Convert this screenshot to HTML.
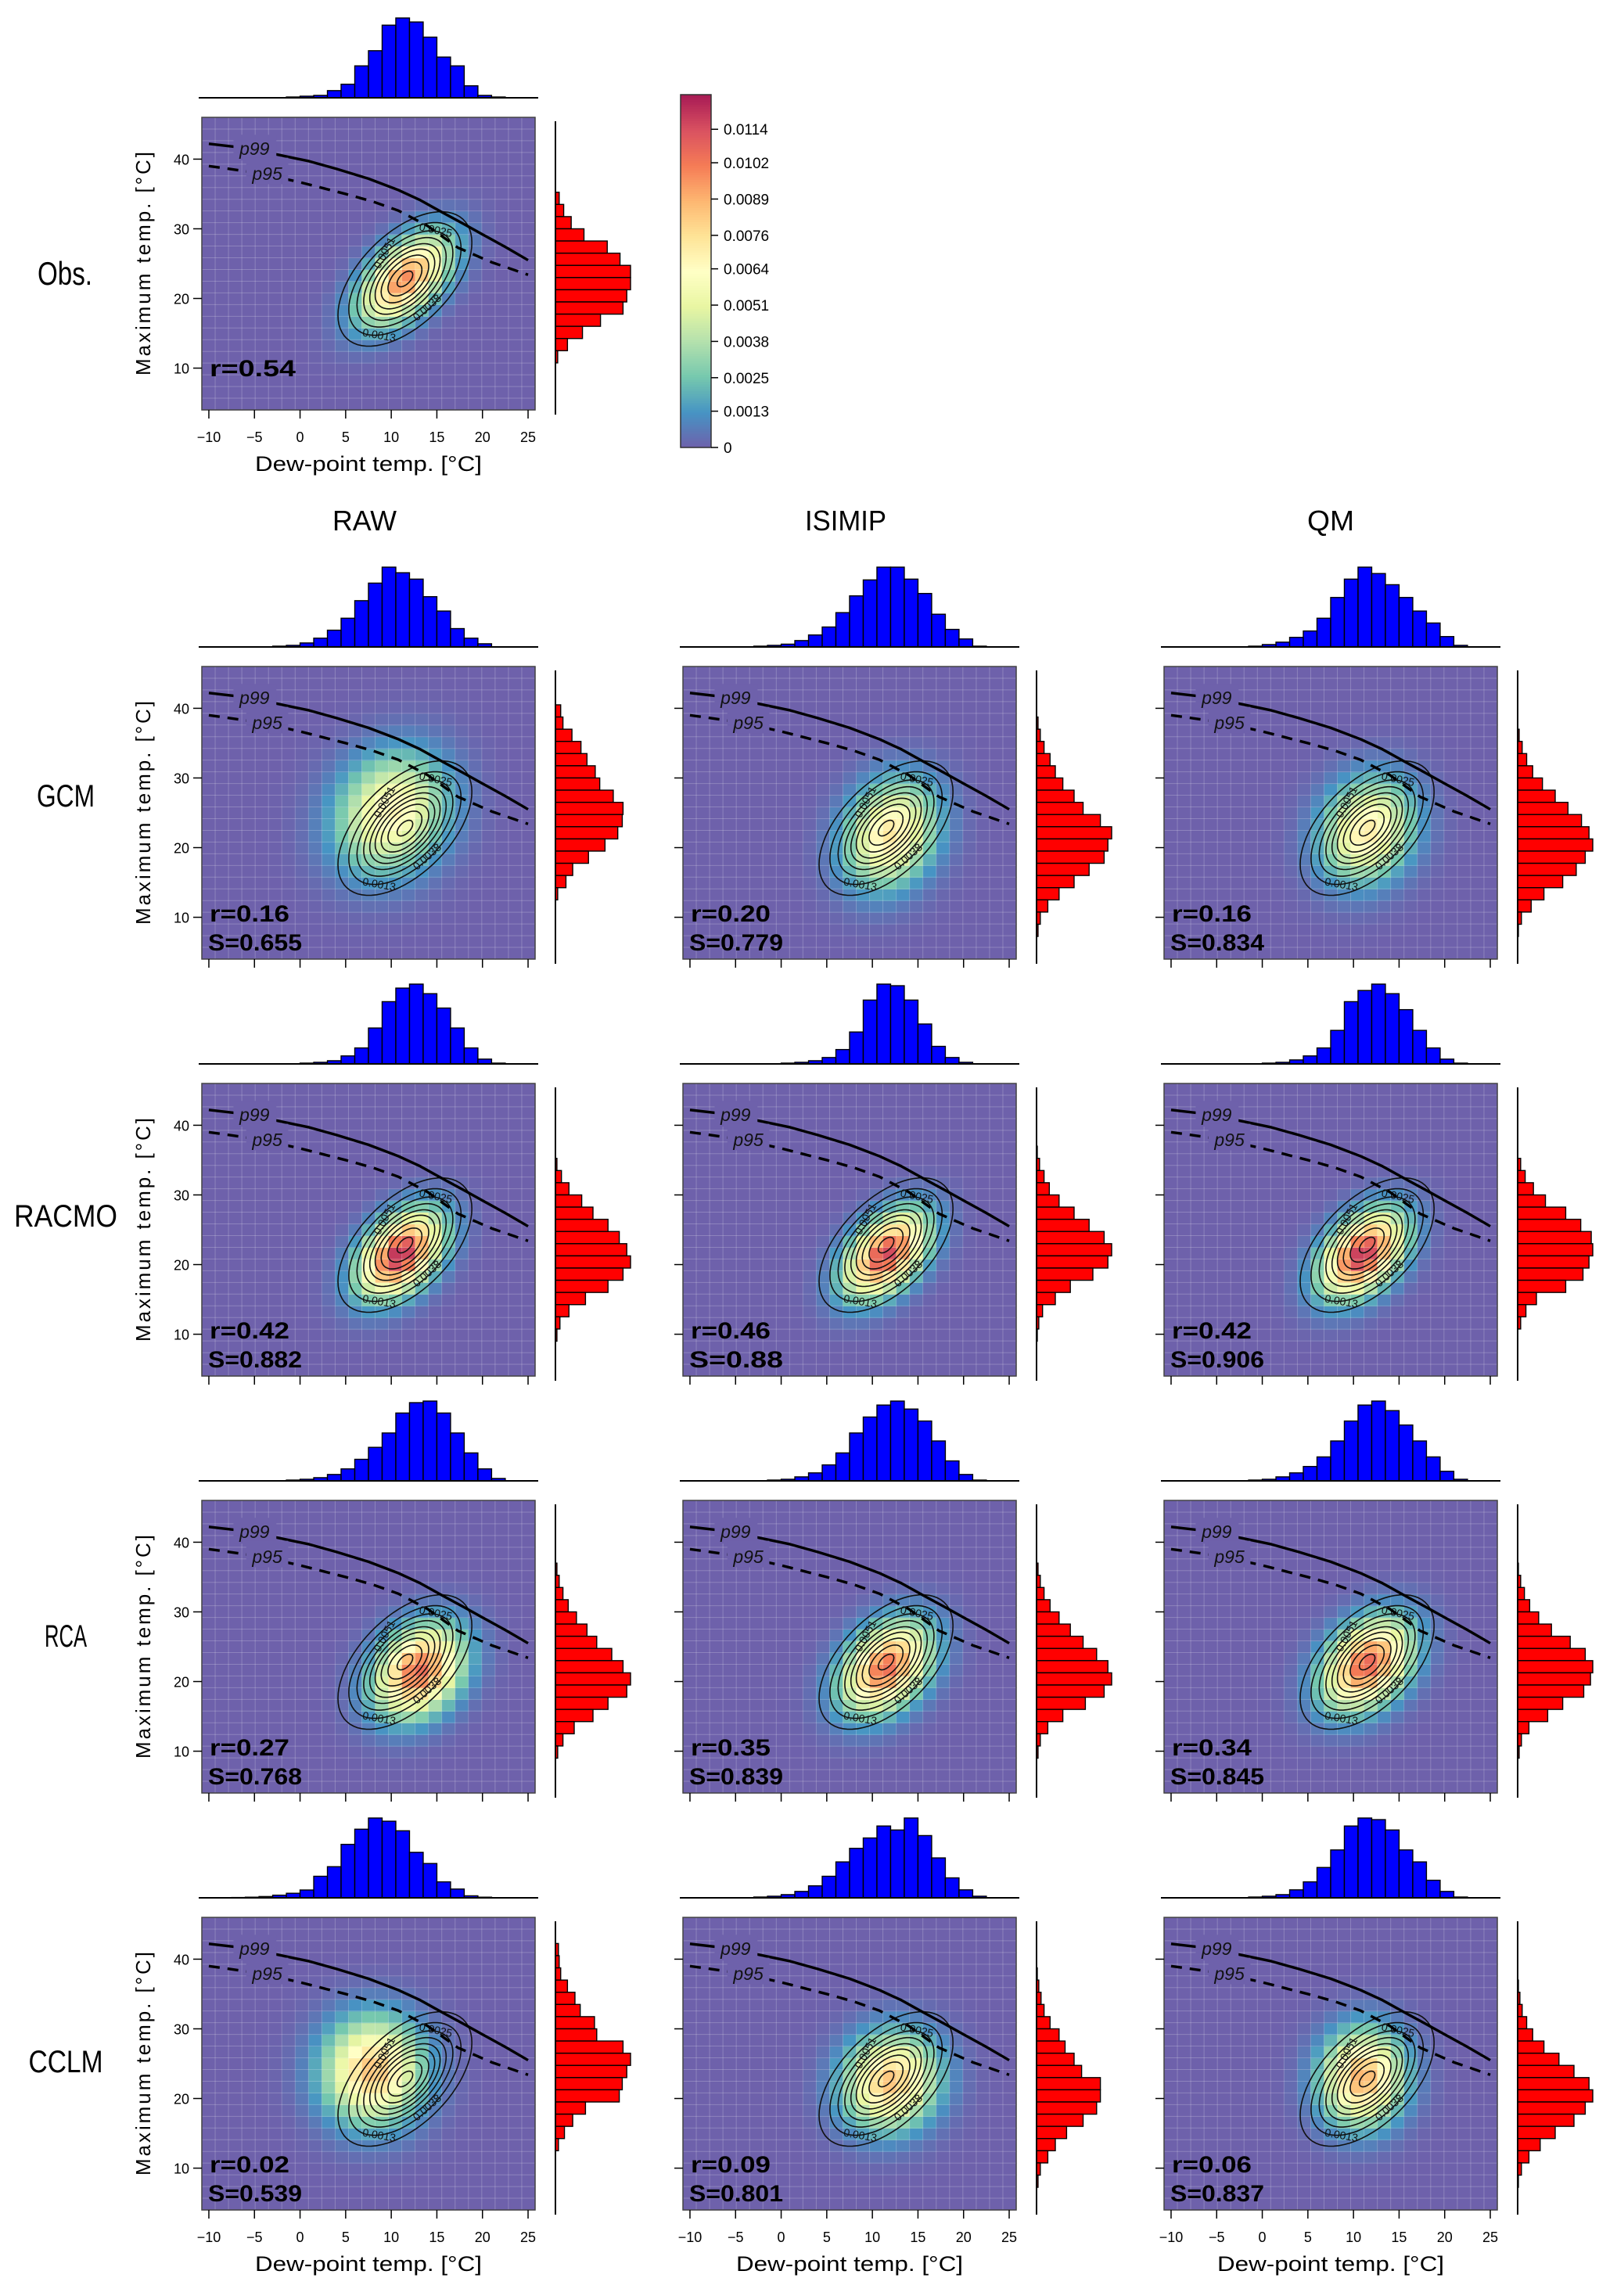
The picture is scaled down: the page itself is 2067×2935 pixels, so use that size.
<!DOCTYPE html>
<html><head><meta charset="utf-8"><style>
html,body{margin:0;padding:0;background:#fff;}
svg{display:block;}
text{font-family:"Liberation Sans",sans-serif;}
</style></head><body>
<svg id="fig" width="2067" height="2935" viewBox="0 0 2067 2935" xmlns="http://www.w3.org/2000/svg"></svg>
<script>
// ---- data ----
const rowNames = ["GCM","RACMO","RCA","CCLM"];
const colNames = ["RAW","ISIMIP","QM"];
const rValues = [["0.16","0.20","0.16"],["0.42","0.46","0.42"],["0.27","0.35","0.34"],["0.02","0.09","0.06"]];
const sValues = [["0.655","0.779","0.834"],["0.882","0.88","0.906"],["0.768","0.839","0.845"],["0.539","0.801","0.837"]];
const obsR = "0.54";
const xTicks = [-10,-5,0,5,10,15,20,25];
const yTicks = [10,20,30,40];
const cbTicks = [0,0.0013,0.0025,0.0038,0.0051,0.0064,0.0076,0.0089,0.0102,0.0114];
const contourLevels = [0.0013,0.0025,0.0038,0.0051,0.0064,0.0076,0.0089,0.0102,0.0114];
// density parameters per panel: [meanX, meanY, sdX, sdY, rho, peak]
const obsDensity = [11.5,22.8,3.3,4.3,0.54,0.0098];
const contourParams = [11.5,22.8,3.5,4.6,0.54]; // observed contours
const densities = [
 [[10,25,4,5.6,0.16,0.0068],[12,22,3.3,5,0.2,0.0074],[11.5,22.5,3.3,4.8,0.16,0.0072]],
 [[11,21.5,3,4,0.42,0.0122],[11.5,21.5,3,4,0.46,0.0116],[11,21.5,3,4,0.42,0.012]],
 [[13,21.5,3.2,4.3,0.27,0.0105],[11.5,22,3.2,4.3,0.35,0.0105],[11.5,22.5,3.2,4.3,0.34,0.0108]],
 [[8,24,3.6,5,0.02,0.0085],[12,22.5,3.4,4.5,0.09,0.0085],[11,23,3,4.5,0.06,0.009]]
];
// top histograms: bins start -7.5 width 1.5
const obsTop = [0,0,0,0,.01,.02,.03,.09,.17,.4,.59,.91,1,.95,.76,.51,.4,.15,.03,.01,0,0];
const gcmRawTop = [0,0,0,.01,.02,.05,.11,.21,.36,.58,.8,1,.93,.85,.63,.45,.23,.11,.04,0,0,0];
const gcmIsiTop = [0,0,0,.01,.02,.035,.08,.15,.25,.43,.64,.84,1,1,.85,.67,.41,.22,.1,.01,0,0];
const gcmQmTop = [0,0,0,0,.01,.03,.06,.12,.2,.36,.62,.85,1,.92,.78,.62,.45,.3,.13,.02,0,0];
const racmoRawTop = [0,0,0,0,0,.01,.02,.04,.1,.2,.45,.78,.95,1,.88,.7,.45,.2,.06,.01,0,0];
const racmoIsiTop = [0,0,0,0,0,.01,.02,.04,.08,.18,.4,.8,1,.98,.8,.5,.22,.08,.02,0,0,0];
const racmoQmTop = [0,0,0,0,0,.01,.02,.05,.1,.2,.42,.78,.92,1,.88,.68,.42,.2,.06,.01,0,0];
const rcaRawTop = [0,0,0,0,.01,.02,.04,.08,.15,.27,.42,.6,.85,.98,1,.85,.6,.35,.15,.03,0,0];
const rcaIsiTop = [0,0,0,0,.01,.02,.05,.1,.2,.35,.6,.8,.95,1,.9,.75,.5,.25,.08,.01,0,0];
const rcaQmTop = [0,0,0,0,.01,.02,.05,.1,.18,.3,.5,.75,.95,1,.88,.7,.5,.3,.12,.02,0,0];
const cclmRawTop = [.004,.008,.016,.033,.057,.098,.27,.39,.67,.86,1,.96,.84,.57,.43,.2,.11,.025,.008,0,0,0];
const cclmIsiTop = [0,0,0,.01,.02,.04,.08,.15,.27,.45,.62,.75,.9,.85,1,.78,.5,.25,.1,.02,0,0];
const cclmQmTop = [0,0,0,0,.01,.02,.04,.1,.2,.38,.6,.9,1,.98,.85,.6,.45,.22,.08,.01,0,0];
// right histograms: top edge 42.25, width 1.75, listed top -> bottom
const obsRight = [0,0,0,0,.05,.11,.21,.38,.69,.86,1,1,.95,.9,.6,.36,.16,.03,0,0,0];
const gcmRawRight = [0,.07,.1,.22,.34,.42,.53,.59,.77,.9,.89,.83,.66,.44,.23,.14,.03,0,0,0,0];
const gcmIsiRight = [0,0,.02,.05,.1,.18,.25,.35,.5,.62,.85,1,.95,.9,.7,.5,.3,.15,.05,.02,0];
const gcmQmRight = [0,0,0,.02,.06,.12,.2,.33,.5,.67,.85,.95,1,.9,.78,.6,.35,.18,.05,.01,0];
const racmoRawRight = [0,0,0,0,.02,.08,.18,.35,.5,.7,.85,.95,1,.9,.7,.4,.18,.06,.02,0,0];
const racmoIsiRight = [0,0,0,.01,.04,.1,.17,.3,.5,.7,.9,1,.95,.75,.45,.25,.08,.03,.01,0,0];
const racmoQmRight = [0,0,0,0,.04,.1,.21,.37,.64,.84,.98,1,.95,.87,.64,.25,.11,.04,0,0,0];
const rcaRawRight = [0,0,0,.02,.05,.1,.17,.28,.42,.55,.75,.9,1,.95,.7,.5,.25,.1,.03,0,0];
const rcaIsiRight = [0,0,0,.02,.05,.1,.18,.3,.45,.62,.8,.95,1,.9,.65,.35,.15,.05,.02,0,0];
const rcaQmRight = [0,0,0,.01,.04,.09,.16,.28,.45,.7,.9,1,.97,.88,.6,.4,.15,.05,.02,0,0];
const cclmRawRight = [.04,.05,.07,.16,.26,.33,.52,.55,.9,1,.95,.89,.85,.4,.23,.12,.04,0,0,0,0];
const cclmIsiRight = [0,0,.01,.03,.06,.1,.18,.3,.38,.5,.6,.85,.85,.8,.62,.4,.25,.15,.05,.02,0];
const cclmQmRight = [0,0,0,.01,.03,.06,.12,.2,.35,.55,.75,.95,1,.9,.75,.5,.3,.15,.05,.01,0];
const topHists = [[gcmRawTop,gcmIsiTop,gcmQmTop],[racmoRawTop,racmoIsiTop,racmoQmTop],[rcaRawTop,rcaIsiTop,rcaQmTop],[cclmRawTop,cclmIsiTop,cclmQmTop]];
const rightHists = [[gcmRawRight,gcmIsiRight,gcmQmRight],[racmoRawRight,racmoIsiRight,racmoQmRight],[rcaRawRight,rcaIsiRight,rcaQmRight],[cclmRawRight,cclmIsiRight,cclmQmRight]];
const p99X = [-10,-6,-2.3,1,4,7.5,10.8,13.2,15.4,17.8,20,22.5,25];
const p99Y = [42.2,41.6,40.6,39.7,38.6,37.2,35.55,34.1,32.5,30.8,29.2,27.4,25.5];
const p95X = [-10,-5,-0.05,5,8,10.8,14,17.3,21,25];
const p95Y = [39.0,38.1,36.7,35.0,33.9,32.6,30.4,27.3,25.2,23.4];

// ---- drawing ----
const NS="http://www.w3.org/2000/svg";
const svg=document.getElementById('fig');
function mk(tag,attrs,parent){const e=document.createElementNS(NS,tag);for(const k in attrs)e.setAttribute(k,attrs[k]);(parent||svg).appendChild(e);return e;}
const XMIN=-10.77,XMAX=25.77,YMIN=4,YMAX=46,PW=426,PH=374,CBMAX=0.01264;
const spectral=["#5E4FA2","#3288BD","#66C2A5","#ABDDA4","#E6F598","#FFFFBF","#FEE08B","#FDAE61","#F46D43","#D53E4F","#9E0142"];
function hex(h){return [parseInt(h.substr(1,2),16),parseInt(h.substr(3,2),16),parseInt(h.substr(5,2),16)];}
function colorOf(v){let t=Math.max(0,Math.min(1,v/CBMAX))*(spectral.length-1);let i=Math.min(Math.floor(t),spectral.length-2);let f=t-i;const a=hex(spectral[i]),b=hex(spectral[i+1]);
 const c=a.map((x,k)=>Math.round((x+(b[k]-x)*f)*0.9+255*0.1));return `rgb(${c[0]},${c[1]},${c[2]})`;}
function dens(p,x,y){const dx=(x-p[0])/p[2],dy=(y-p[1])/p[3],r=p[4];const q=(dx*dx-2*r*dx*dy+dy*dy)/(1-r*r);return p[5]*Math.exp(-q/2);}

function panel(x0,y0,dp,topH,rightH,opt){
 const g=mk('g',{});
 
 
 const sx=v=>x0+(v-XMIN)/(XMAX-XMIN)*PW;
 const sy=v=>y0+(YMAX-v)/(YMAX-YMIN)*PH;
 const N=25,cw=(XMAX-XMIN)/N,ch=(YMAX-YMIN)/N;
 const hm=mk('g',{},g);
 
 
 for(let i=0;i<N;i++)for(let j=0;j<N;j++){
  const cx=XMIN+(i+0.5)*cw,cy=YMIN+(j+0.5)*ch;
  const r=mk('rect',{x:sx(XMIN+i*cw),y:sy(YMIN+(j+1)*ch),width:PW/N+0.6,height:PH/N+0.6,fill:colorOf(dens(dp,cx,cy))},hm);
  
  
 }
 for(let i=1;i<N;i++){mk('line',{x1:x0+i*PW/N,x2:x0+i*PW/N,y1:y0,y2:y0+PH,stroke:'rgba(255,255,255,0.22)','stroke-width':1},g);
  mk('line',{x1:x0,x2:x0+PW,y1:y0+i*PH/N,y2:y0+i*PH/N,stroke:'rgba(255,255,255,0.22)','stroke-width':1},g);}
 const cp=contourParams;const pk=1/(2*Math.PI*cp[2]*cp[3]*Math.sqrt(1-cp[4]*cp[4]));
 contourLevels.forEach(lv=>{ if(lv>=pk)return; const d=Math.sqrt(2*Math.log(pk/lv));let pts=[];
  for(let k=0;k<=72;k++){const t=k/72*2*Math.PI;const xv=cp[0]+cp[2]*d*Math.cos(t);const yv=cp[1]+cp[3]*d*(cp[4]*Math.cos(t)+Math.sqrt(1-cp[4]*cp[4])*Math.sin(t));pts.push(sx(xv).toFixed(1)+','+sy(yv).toFixed(1));}
  const pl=mk('polyline',{points:pts.join(' '),fill:'none',stroke:'#111','stroke-width':1.6},g);
  
  
 });
 const cl=[["0.0025",14.8,29.3,12],["0.0051",9.6,26.3,-62],["0.0038",14.2,18.3,-42],["0.0013",8.6,14.2,10]];
 cl.forEach(c=>{const t=mk('text',{x:sx(c[1]),y:sy(c[2]),'font-size':14,'text-anchor':'middle',fill:'#111',transform:`rotate(${c[3]} ${sx(c[1])} ${sy(c[2])})`},g);t.textContent=c[0];
  });
 const line=(X,Y,dash,name)=>{const p=mk('polyline',{points:X.map((v,i)=>sx(v)+','+sy(Y[i])).join(' '),fill:'none',stroke:'#000','stroke-width':3.4,'stroke-dasharray':dash,'stroke-linejoin':'round'},g);
  };
 line(p99X,p99Y,'none','p99-curve');line(p95X,p95Y,'14,10','p95-curve');
 mk('rect',{x:sx(-7.3),y:sy(43.5),width:sx(-2.6)-sx(-7.3),height:sy(39.8)-sy(43.5),fill:colorOf(0)},g);
 mk('rect',{x:sx(-5.9),y:sy(40.2),width:sx(-1.3)-sx(-5.9),height:sy(36.4)-sy(40.2),fill:colorOf(0)},g);
 let t=mk('text',{x:sx(-5),y:sy(40.6),'font-size':23,'font-style':'italic','text-anchor':'middle',fill:'#111'},g);t.textContent='p99';
 
 t=mk('text',{x:sx(-3.6),y:sy(37.0),'font-size':23,'font-style':'italic','text-anchor':'middle',fill:'#111'},g);t.textContent='p95';
 
 mk('rect',{x:x0,y:y0,width:PW,height:PH,fill:'none',stroke:'#444','stroke-width':1.5},g);
 xTicks.forEach(v=>{mk('line',{x1:sx(v),x2:sx(v),y1:y0+PH,y2:y0+PH+11,stroke:'#000','stroke-width':1.5},g);
  if(opt.xlabels){const tt=mk('text',{x:sx(v),y:y0+PH+41,'font-size':18,'text-anchor':'middle'},g);tt.textContent=(v<0?'\u2212':'')+Math.abs(v);
   }});
 yTicks.forEach(v=>{mk('line',{x1:x0-11,x2:x0,y1:sy(v),y2:sy(v),stroke:'#000','stroke-width':1.5},g);
  if(opt.ylabels){const tt=mk('text',{x:x0-16,y:sy(v)+7,'font-size':18,'text-anchor':'end'},g);tt.textContent=v;
   }});
 if(opt.xlabels){const tt=mk('text',{x:x0+PW/2,y:y0+PH+78,'font-size':27,'text-anchor':'middle',textLength:290,lengthAdjust:'spacingAndGlyphs'},g);tt.textContent='Dew-point temp. [°C]';
  }
 if(opt.ylabels){const cx=x0-75,cy=y0+PH/2;const tt=mk('text',{x:cx,y:cy+9,'font-size':26,'text-anchor':'middle',transform:`rotate(-90 ${cx} ${cy})`,textLength:286,lengthAdjust:'spacing'},g);tt.textContent='Maximum temp. [°C]';
  }
 let rt=mk('text',{x:x0+10,y:y0+(opt.s?326:331),'font-size':30,'font-weight':'bold',textLength:opt.s?102:110,lengthAdjust:'spacingAndGlyphs'},g);rt.textContent='r='+opt.r;
 
 if(opt.s){let st=mk('text',{x:x0+8,y:y0+363,'font-size':30,'font-weight':'bold',textLength:120,lengthAdjust:'spacingAndGlyphs'},g);st.textContent='S='+opt.s;
  }
 const base=y0-25;
 topH.forEach((h,i)=>{if(h<=0)return;const a=-7.5+i*1.5;const b=mk('rect',{x:sx(a),y:base-h*102,width:sx(a+1.5)-sx(a),height:h*102,fill:'#0000FF',stroke:'#000','stroke-width':1.4},g);
  });
 mk('line',{x1:x0-4,x2:x0+430,y1:base,y2:base,stroke:'#000','stroke-width':2},g);
 const lx=x0+452;
 rightH.forEach((h,i)=>{if(h<=0)return;const a=42.25-i*1.75;const b=mk('rect',{x:lx,y:sy(a),width:h*96,height:sy(a-1.75)-sy(a),fill:'#FF0000',stroke:'#000','stroke-width':1.4},g);
  });
 mk('line',{x1:lx,x2:lx,y1:y0+5,y2:y0+380,stroke:'#000','stroke-width':2},g);
}
function label(txt,x,y,size,len,name){const t=mk('text',{x:x,y:y,'font-size':size,'text-anchor':'middle',textLength:len,lengthAdjust:'spacingAndGlyphs'});t.textContent=txt;
 }

panel(258,150,obsDensity,obsTop,obsRight,{name:'obs-panel',xlabels:true,ylabels:true,r:obsR});
label('Obs.',83,364,42,70,'row-label-obs');
const rowY=[1017,1554,2091,2635];
for(let r=0;r<4;r++){
 for(let c=0;c<3;c++){
  panel(258+615*c,852+533*r,densities[r][c],topHists[r][c],rightHists[r][c],{name:'panel-'+rowNames[r].toLowerCase()+'-'+colNames[c].toLowerCase(),xlabels:r===3,ylabels:c===0,r:rValues[r][c],s:sValues[r][c]});
 }
 label(rowNames[r],84,rowY[r]+14,40,[74,132,54,95][r],'row-label-'+rowNames[r].toLowerCase());
}
colNames.forEach((n,c)=>label(n,466+615*c+(c===2?5:0),678,36,[82,104,60][c],'column-title-'+n.toLowerCase()));

const cb=mk('g',{});


const cbY=v=>572-v/CBMAX*451;
for(let k=0;k<150;k++){const v0=k/150*CBMAX;mk('rect',{x:870,y:cbY(v0+CBMAX/150),width:39,height:451/150+0.6,fill:colorOf(v0+CBMAX/300)},cb);}
mk('rect',{x:870,y:121,width:39,height:451,fill:'none',stroke:'#333','stroke-width':1.5},cb);
cbTicks.forEach(v=>{mk('line',{x1:909,x2:918,y1:cbY(v),y2:cbY(v),stroke:'#000','stroke-width':1.5},cb);
 const t=mk('text',{x:925,y:cbY(v)+7,'font-size':19},cb);t.textContent=String(v);
 });
</script>
</body></html>
